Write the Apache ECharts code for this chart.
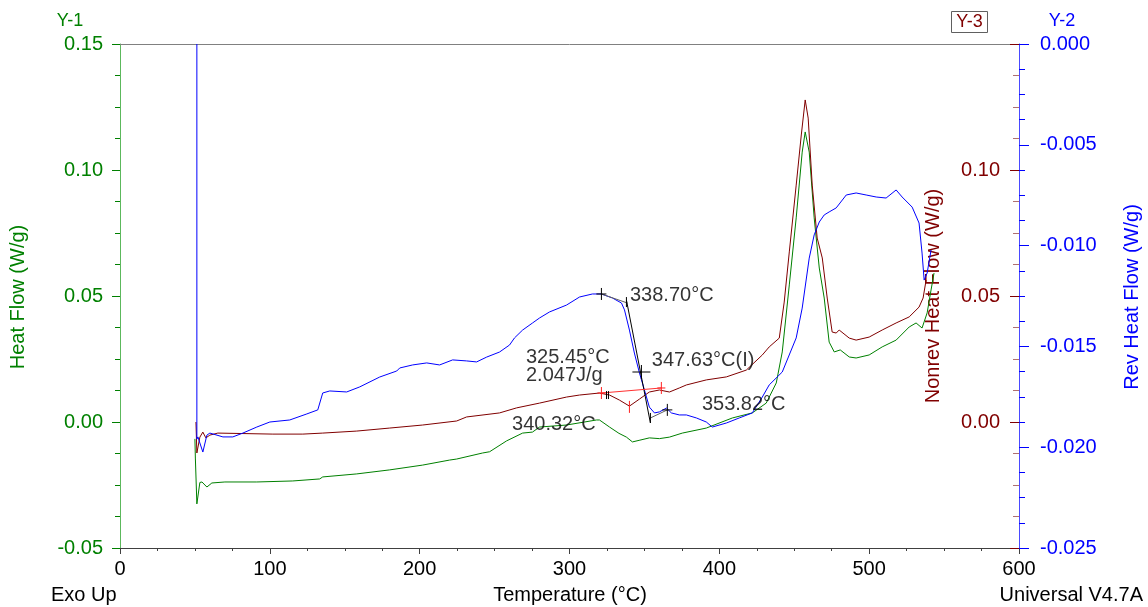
<!DOCTYPE html>
<html>
<head>
<meta charset="utf-8">
<script src="https://cdn.jsdelivr.net/npm/echarts@6.0.0/dist/echarts.min.js"></script>
<style>
  html, body { margin: 0; padding: 0; background: #ffffff; }
  #chart { width: 1148px; height: 607px; }
</style>
</head>
<body>
<div id="chart"></div>
<script>
// Modulated DSC run: total, reversing and non-reversing heat flow vs temperature.

// Heat Flow (W/g), Y-1 axis — [temperature °C, W/g]
const heatFlow = [
  [50.0, -0.0067], [50.3, -0.0143], [51.3, -0.0325], [53.3, -0.0240], [54.7, -0.0238],
  [58.0, -0.0258], [61.3, -0.0242], [70.0, -0.0238], [91.3, -0.0238], [115.3, -0.0234],
  [133.3, -0.0226], [135.3, -0.0218], [158.0, -0.0206], [180.0, -0.0190], [202.0, -0.0171],
  [220.0, -0.0151], [224.7, -0.0147], [242.0, -0.0123], [246.7, -0.0118], [258.0, -0.0075],
  [268.7, -0.0044], [275.3, -0.0040], [280.0, -0.0020], [298.0, -0.0012], [310.0, 0.0000],
  [318.0, 0.0008], [320.0, 0.0008], [326.7, -0.0020], [333.0, -0.0045], [338.0, -0.0060],
  [342.0, -0.0079], [347.0, -0.0072], [353.3, -0.0063], [360.0, -0.0066], [366.7, -0.0060],
  [375.3, -0.0044], [391.3, -0.0024], [408.7, 0.0016], [422.0, 0.0036], [431.3, 0.0075],
  [438.0, 0.0155], [442.0, 0.0278], [446.7, 0.0544], [451.3, 0.0810], [455.3, 0.1071],
  [457.3, 0.1151], [460.0, 0.1071], [463.3, 0.0810], [466.7, 0.0611], [470.0, 0.0492],
  [473.3, 0.0317], [476.7, 0.0278], [480.7, 0.0286], [486.7, 0.0258], [491.3, 0.0254],
  [500.0, 0.0266], [508.7, 0.0298], [518.0, 0.0325], [526.7, 0.0377], [531.3, 0.0393],
  [535.3, 0.0373], [538.7, 0.0433], [541.3, 0.0524], [543.3, 0.0591]
];

// Nonrev Heat Flow (W/g), Y-3 axis
const nonrevHeatFlow = [
  [50.7, 0.0000], [51.3, -0.0123], [53.3, -0.0060], [55.3, -0.0040], [57.3, -0.0063],
  [60.0, -0.0052], [65.3, -0.0044], [102.0, -0.0048], [122.0, -0.0048], [135.3, -0.0044],
  [158.0, -0.0036], [180.0, -0.0024], [202.0, -0.0012], [224.7, 0.0004], [231.3, 0.0020],
  [253.3, 0.0036], [264.7, 0.0056], [280.0, 0.0075], [298.0, 0.0099], [306.7, 0.0107],
  [320.0, 0.0115], [326.7, 0.0107], [333.3, 0.0087], [340.0, 0.0063], [346.7, 0.0091],
  [353.3, 0.0119], [360.0, 0.0127], [366.7, 0.0119], [373.3, 0.0135], [378.0, 0.0147],
  [391.3, 0.0167], [404.7, 0.0179], [418.0, 0.0206], [428.7, 0.0266], [433.3, 0.0298],
  [440.0, 0.0333], [443.3, 0.0476], [446.7, 0.0675], [451.3, 0.0940], [454.7, 0.1139],
  [457.3, 0.1278], [459.3, 0.1206], [462.0, 0.0940], [465.3, 0.0730], [468.7, 0.0651],
  [472.0, 0.0492], [475.3, 0.0357], [478.0, 0.0353], [480.0, 0.0365], [486.7, 0.0333],
  [491.3, 0.0325], [500.0, 0.0337], [508.7, 0.0365], [518.0, 0.0393], [526.7, 0.0417],
  [533.3, 0.0456], [536.0, 0.0492], [538.0, 0.0563]
];

// Rev Heat Flow (W/g), Y-2 axis
const revHeatFlow = [
  [51.3, 0.0000], [51.3, -0.01960], [52.0, -0.01949], [53.3, -0.01979], [55.3, -0.02024],
  [58.0, -0.01940], [60.0, -0.01930], [68.7, -0.01949], [75.3, -0.01949], [82.0, -0.01930],
  [91.3, -0.01900], [100.0, -0.01875], [113.3, -0.01865], [124.7, -0.01835], [132.0, -0.01815],
  [135.3, -0.01731], [140.0, -0.01721], [151.3, -0.01726], [160.0, -0.01701], [173.3, -0.01652],
  [184.7, -0.01622], [186.7, -0.01607], [195.3, -0.01592], [204.7, -0.01582], [213.3, -0.01592],
  [222.0, -0.01567], [231.3, -0.01572], [238.0, -0.01577], [244.7, -0.01553], [253.3, -0.01528],
  [260.0, -0.01493], [263.3, -0.01458], [268.7, -0.01419], [275.3, -0.01384], [280.0, -0.01359],
  [286.7, -0.01329], [298.0, -0.01295], [306.7, -0.01255], [315.3, -0.01240], [321.3, -0.01240],
  [328.7, -0.01260], [334.7, -0.01285], [336.7, -0.01319], [340.0, -0.01419], [343.3, -0.01533],
  [346.7, -0.01632], [350.0, -0.01716], [353.3, -0.01801], [356.7, -0.01830], [360.0, -0.01825],
  [364.7, -0.01806], [368.0, -0.01830], [373.3, -0.01840], [378.0, -0.01840], [384.7, -0.01855],
  [391.3, -0.01875], [395.3, -0.01900], [404.7, -0.01880], [413.3, -0.01855], [422.0, -0.01830],
  [428.7, -0.01751], [433.3, -0.01691], [442.0, -0.01627], [451.3, -0.01458], [455.3, -0.01310],
  [460.0, -0.01062], [463.3, -0.00947], [466.7, -0.00883], [470.0, -0.00848], [473.3, -0.00833],
  [478.0, -0.00813], [484.7, -0.00749], [491.3, -0.00739], [498.0, -0.00749], [504.7, -0.00759],
  [511.3, -0.00764], [518.0, -0.00724], [522.0, -0.00759], [528.7, -0.00809], [533.3, -0.00888],
  [535.3, -0.01037], [536.7, -0.01171], [538.7, -0.01136], [541.3, -0.01022]
];

// Analysis annotations
// Glass transition on the reversing signal: tangent segments (Y-2 units)
const revTangents = [
  [[321.3, -0.01240], [338.7, -0.01285]],
  [[338.0, -0.01270], [354.0, -0.01880]],
  [[354.0, -0.01855], [365.3, -0.01815]]
];
const revCrossMarks = [[321.3, -0.01240], [365.3, -0.01815]];
const revMidpointMark = [[348.0, -0.01627]];
const revTickMarks = [[338.0, -0.01280], [354.0, -0.01855]];

// Peak integration on the non-reversing signal (Y-3 units)
const nonrevBaseline = [[321.3, 0.0115], [361.3, 0.0135]];
const nonrevCrossMarks = [[321.3, 0.0115], [361.3, 0.0135]];
const nonrevTickMarks = [[340.0, 0.0060]];
const nonrevLimitMarks = [[324.7, 0.0107], [326.0, 0.0107]];

// Result labels, anchored at their left edge (Y-1 units)
const resultLabels = [
  { text: '338.70°C', at: [340.7, 0.0500] },
  { text: '325.45°C', at: [271.3, 0.0254] },
  { text: '2.047J/g', at: [271.3, 0.0182] },
  { text: '347.63°C(I)', at: [355.3, 0.0242] },
  { text: '340.32°C', at: [262.0, -0.0012] },
  { text: '353.82°C', at: [388.7, 0.0067] }
];

const xTicks = { min: 0, max: 600, step: 100 };

const FONT = "'Liberation Sans', Arial, Helvetica, sans-serif";
const GREEN = '#008000';
const BLUE = '#0000ff';
const RED = '#800000';

function curve(name, data, color, yAxisIndex, z) {
  return {
    name, type: 'line', data, yAxisIndex, xAxisIndex: 0,
    showSymbol: false, symbol: 'none', silent: true, z,
    lineStyle: { color, width: 1 }, itemStyle: { color },
    emphasis: { disabled: true }
  };
}

function segment(data, color, yAxisIndex) {
  return {
    type: 'line', data, yAxisIndex, xAxisIndex: 0,
    showSymbol: false, symbol: 'none', silent: true, z: 6,
    lineStyle: { color, width: 1 }, emphasis: { disabled: true }
  };
}

// Crosshair / tick glyphs drawn in pixels around data points
function marks(data, color, yAxisIndex, hw, hh) {
  return {
    type: 'custom', data, yAxisIndex, xAxisIndex: 0, silent: true, z: 7,
    renderItem(params, api) {
      const p = api.coord([api.value(0), api.value(1)]);
      const children = [{
        type: 'line',
        shape: { x1: p[0], y1: p[1] - hh, x2: p[0], y2: p[1] + hh },
        style: { stroke: color, lineWidth: 1 }
      }];
      if (hw > 0) {
        children.push({
          type: 'line',
          shape: { x1: p[0] - hw, y1: p[1], x2: p[0] + hw, y2: p[1] },
          style: { stroke: color, lineWidth: 1 }
        });
      }
      return { type: 'group', children };
    }
  };
}

const chart = echarts.init(document.getElementById('chart'), null, { renderer: 'canvas' });

const series = [
  curve('Heat Flow', heatFlow, GREEN, 0, 2),
  curve('Nonrev Heat Flow', nonrevHeatFlow, RED, 2, 3),
  curve('Rev Heat Flow', revHeatFlow, BLUE, 1, 4)
];
revTangents.forEach((seg, i) => series.push(segment(seg, i === 1 ? '#000000' : '#606060', 1)));
series.push(segment(nonrevBaseline, '#ff3030', 2));
series.push(marks(revCrossMarks, '#000000', 1, 5, 6));
series.push(marks(revMidpointMark, '#000000', 1, 9, 7));
series.push(marks(revTickMarks, '#000000', 1, 0, 5));
series.push(marks(nonrevCrossMarks, '#ff2020', 2, 4, 6));
series.push(marks(nonrevTickMarks, '#ff2020', 2, 0, 6));
series.push(marks(nonrevLimitMarks, '#000000', 2, 0, 4));
series.push({
  type: 'scatter', yAxisIndex: 0, xAxisIndex: 0, silent: true, z: 8,
  symbolSize: 1, itemStyle: { color: 'rgba(0,0,0,0)' },
  data: resultLabels.map(d => ({ name: d.text, value: d.at })),
  label: {
    show: true, position: [0, 0], align: 'left', verticalAlign: 'middle',
    formatter: p => p.name, color: '#000000', fontSize: 20, fontFamily: FONT
  },
  emphasis: { disabled: true }
});

const option = {
  animation: false,
  backgroundColor: '#ffffff',
  grid: { left: 120, right: 129, top: 44, bottom: 59, containLabel: false, outerBoundsMode: 'none' },
  xAxis: [
    {
      type: 'value', position: 'bottom', min: xTicks.min, max: xTicks.max, interval: xTicks.step,
      axisLine: { show: true, onZero: false, lineStyle: { color: '#404040', width: 1 } },
      axisTick: { show: true, length: 6, lineStyle: { color: '#404040' } },
      minorTick: { show: true, splitNumber: 4, length: 3, lineStyle: { color: '#404040' } },
      splitLine: { show: false }, minorSplitLine: { show: false },
      axisLabel: { color: '#000000', fontSize: 20, fontFamily: FONT, margin: 11 }
    },
    {
      type: 'value', position: 'top', min: xTicks.min, max: xTicks.max, interval: xTicks.step,
      axisLine: { show: true, onZero: false, lineStyle: { color: '#808080', width: 1 } },
      axisTick: { show: false }, axisLabel: { show: false }, splitLine: { show: false }
    }
  ],
  yAxis: [
    {
      type: 'value', position: 'left', min: -0.05, max: 0.15, interval: 0.05,
      axisLine: { show: true, onZero: false, lineStyle: { color: '#5cb85c', width: 1 } },
      axisTick: { show: true, length: 8, lineStyle: { color: GREEN } },
      minorTick: { show: true, splitNumber: 4, length: 5, lineStyle: { color: GREEN } },
      splitLine: { show: false }, minorSplitLine: { show: false },
      axisLabel: { color: GREEN, fontSize: 20, fontFamily: FONT, margin: 17, formatter: v => v.toFixed(2) }
    },
    {
      type: 'value', position: 'right', offset: 0, min: -0.025, max: 0, interval: 0.005, z: 3,
      axisLine: { show: true, onZero: false, lineStyle: { color: '#4a4aff', width: 1 } },
      axisTick: { show: true, length: 10, lineStyle: { color: BLUE } },
      minorTick: { show: true, splitNumber: 4, length: 6, lineStyle: { color: BLUE } },
      splitLine: { show: false }, minorSplitLine: { show: false },
      axisLabel: { color: BLUE, fontSize: 20, fontFamily: FONT, margin: 21, formatter: v => v.toFixed(3) }
    },
    {
      type: 'value', position: 'right', offset: 0, min: -0.05, max: 0.15, interval: 0.05, z: 1,
      axisLine: { show: false, onZero: false, lineStyle: { color: '#4a4aff' } },
      axisTick: { show: true, inside: true, length: 9, lineStyle: { color: RED } },
      minorTick: { show: true, splitNumber: 4, length: 6, lineStyle: { color: '#b07070' } },
      splitLine: { show: false }, minorSplitLine: { show: false },
      axisLabel: {
        inside: true, color: RED, fontSize: 20, fontFamily: FONT, margin: 19,
        formatter: v => (v < -0.01 || v > 0.11) ? '' : v.toFixed(2)
      }
    }
  ],
  graphic: [
    { type: 'text', x: 70, y: 21, silent: true,
      style: { text: 'Y-1', fill: GREEN, font: '18px ' + FONT, textAlign: 'center', textVerticalAlign: 'middle' } },
    { type: 'text', x: 18, y: 297, rotation: Math.PI / 2, silent: true,
      style: { text: 'Heat Flow (W/g)', fill: GREEN, font: '20px ' + FONT, textAlign: 'center', textVerticalAlign: 'middle' } },
    { type: 'rect', shape: { x: 951.5, y: 11.5, width: 36, height: 21 }, silent: true,
      style: { fill: '#ffffff', stroke: '#606060', lineWidth: 1 } },
    { type: 'text', x: 969.5, y: 22, silent: true,
      style: { text: 'Y-3', fill: RED, font: '18px ' + FONT, textAlign: 'center', textVerticalAlign: 'middle' } },
    { type: 'text', x: 1062, y: 21, silent: true,
      style: { text: 'Y-2', fill: BLUE, font: '18px ' + FONT, textAlign: 'center', textVerticalAlign: 'middle' } },
    { type: 'text', x: 933, y: 296, rotation: Math.PI / 2, silent: true,
      style: { text: 'Nonrev Heat Flow (W/g)', fill: RED, font: '20px ' + FONT, textAlign: 'center', textVerticalAlign: 'middle' } },
    { type: 'text', x: 1132, y: 297, rotation: Math.PI / 2, silent: true,
      style: { text: 'Rev Heat Flow (W/g)', fill: BLUE, font: '20px ' + FONT, textAlign: 'center', textVerticalAlign: 'middle' } },
    { type: 'text', x: 51, y: 595, silent: true,
      style: { text: 'Exo Up', fill: '#000000', font: '20px ' + FONT, textAlign: 'left', textVerticalAlign: 'middle' } },
    { type: 'text', x: 570, y: 595, silent: true,
      style: { text: 'Temperature (°C)', fill: '#000000', font: '20px ' + FONT, textAlign: 'center', textVerticalAlign: 'middle' } },
    { type: 'text', x: 1143, y: 595, silent: true,
      style: { text: 'Universal V4.7A', fill: '#000000', font: '20px ' + FONT, textAlign: 'right', textVerticalAlign: 'middle' } }
  ],
  series
};

chart.setOption(option);
</script>
</body>
</html>
